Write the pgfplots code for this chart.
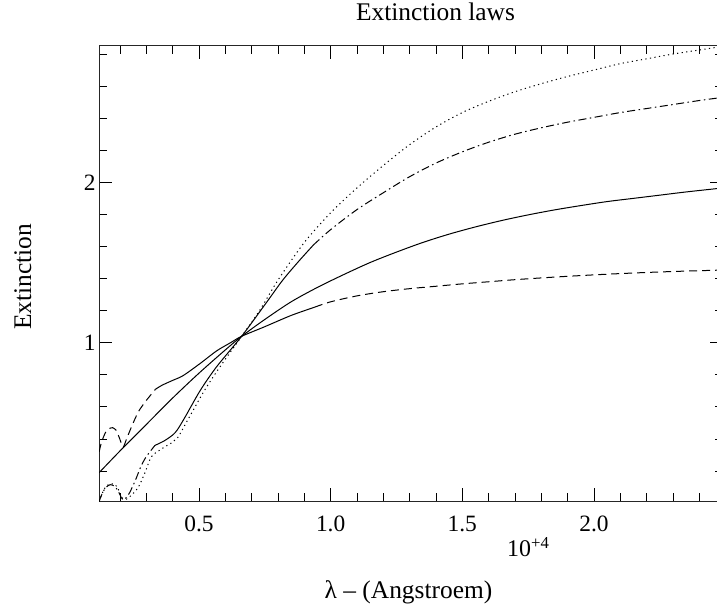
\documentclass[border=0pt]{standalone}
\usepackage{pgfplots}
\pgfplotsset{compat=1.18}
\usepackage{fontspec}
\setmainfont{Liberation Serif}
\begin{document}
\begin{tikzpicture}
\useasboundingbox (0,0) rectangle (717bp,610bp);
\begin{axis}[
  at={(99bp,108.5bp)}, anchor=south west,
  width=624bp, height=455.5bp, scale only axis,
  xmin=0.1204, xmax=2.49, ymin=0.01, ymax=2.85,
  xtick={0.5,1.0,1.5,2.0}, xticklabels={0.5,1.0,1.5,2.0},
  minor xtick={0.2,0.3,0.4,0.6,0.7,0.8,0.9,1.1,1.2,1.3,1.4,1.6,1.7,1.8,1.9,2.1,2.2,2.3,2.4},
  ytick={1,2}, yticklabels={1,2},
  minor ytick={0.2,0.4,0.6,0.8,1.2,1.4,1.6,1.8,2.2,2.4,2.6,2.8},
  tick align=inside,
  major tick length=13bp, minor tick length=8bp,
  tick style={black, line width=0.8bp},
  axis line style={black!85, line width=1bp},
  every tick label/.append style={font=\fontsize{23.5}{28}\selectfont},
  xticklabel style={anchor=base, yshift=-30bp},
]
% solid curve
\addplot[black, line width=1bp, smooth, tension=0.5] coordinates {
(0.121,0.19) (0.2,0.325) (0.3,0.49) (0.4,0.655) (0.5,0.81) (0.6,0.955) (0.662,1.04)
(0.75,1.145) (0.85,1.255) (0.95,1.345) (1.05,1.425) (1.15,1.50) (1.25,1.565) (1.35,1.625)
(1.45,1.677) (1.55,1.722) (1.65,1.762) (1.75,1.797) (1.85,1.828) (1.95,1.855) (2.05,1.88)
(2.15,1.90) (2.25,1.92) (2.35,1.94) (2.49,1.965)
};
% upper curve: dashed / solid / dashed
\addplot[black, line width=1bp, smooth, tension=0.4, dash pattern=on 8bp off 5bp] coordinates {
(0.121,0.32) (0.13,0.38) (0.145,0.44) (0.16,0.465) (0.172,0.47) (0.185,0.455) (0.197,0.41)
(0.212,0.35) (0.225,0.40) (0.245,0.48) (0.27,0.57) (0.30,0.64) (0.335,0.71)
};
\addplot[black, line width=1bp, smooth, tension=0.5] coordinates {
(0.335,0.71) (0.36,0.735) (0.40,0.765) (0.44,0.795) (0.504,0.87) (0.568,0.95) (0.62,1.0)
(0.662,1.04) (0.75,1.10) (0.85,1.17) (0.94,1.222)
};
\addplot[black, line width=1bp, smooth, tension=0.5, dash pattern=on 8bp off 5bp] coordinates {
(0.94,1.222) (1.0,1.255) (1.1,1.292) (1.2,1.318) (1.3,1.337) (1.4,1.352) (1.5,1.367)
(1.6,1.38) (1.7,1.393) (1.8,1.404) (1.9,1.414) (2.0,1.423) (2.1,1.431) (2.2,1.438)
(2.3,1.444) (2.4,1.449) (2.49,1.453)
};
% lower curve: dash-dot / solid / dash-dot
\addplot[black, line width=1bp, smooth, tension=0.4, dash pattern=on 8bp off 3.5bp on 1.5bp off 3.5bp] coordinates {
(0.121,0.01) (0.13,0.05) (0.145,0.095) (0.163,0.115) (0.18,0.105) (0.195,0.07) (0.205,0.035)
(0.215,0.02) (0.235,0.06) (0.258,0.14) (0.28,0.23) (0.30,0.29) (0.333,0.36)
};
\addplot[black, line width=1bp, smooth, tension=0.5] coordinates {
(0.333,0.36) (0.37,0.39) (0.41,0.44) (0.445,0.53) (0.504,0.70) (0.567,0.85) (0.662,1.04)
(0.756,1.25) (0.818,1.39) (0.88,1.51) (0.935,1.61)
};
\addplot[black, line width=1bp, smooth, tension=0.5, dash pattern=on 8bp off 3.5bp on 1.5bp off 3.5bp] coordinates {
(0.935,1.61) (1.0,1.705) (1.1,1.83) (1.2,1.935) (1.3,2.035) (1.4,2.12) (1.5,2.19)
(1.6,2.25) (1.7,2.30) (1.8,2.34) (1.9,2.375) (2.0,2.405) (2.1,2.435) (2.2,2.46)
(2.3,2.485) (2.4,2.51) (2.49,2.53)
};
% dotted curve
\addplot[black, line width=1bp, smooth, tension=0.5, dash pattern=on 1.2bp off 3.4bp] coordinates {
(0.121,0.01) (0.13,0.05) (0.145,0.10) (0.163,0.12) (0.175,0.12) (0.19,0.10) (0.2,0.06)
(0.21,0.03) (0.225,0.025) (0.25,0.06) (0.27,0.10) (0.295,0.19) (0.32,0.29) (0.36,0.34)
(0.40,0.38) (0.42,0.41) (0.458,0.52) (0.52,0.70) (0.58,0.85) (0.662,1.04) (0.73,1.20)
(0.80,1.39) (0.9,1.625) (1.0,1.81) (1.1,1.965) (1.2,2.105) (1.3,2.235) (1.4,2.345)
(1.5,2.435) (1.6,2.505) (1.7,2.565) (1.8,2.615) (1.9,2.66) (2.0,2.70) (2.1,2.74)
(2.2,2.77) (2.3,2.80) (2.4,2.825) (2.49,2.848)
};
\end{axis}
\node[anchor=base, font=\fontsize{25.5}{30}\selectfont] at (435.5bp,589bp) {Extinction laws};
\node[anchor=base, font=\fontsize{25.5}{30}\selectfont] at (408.5bp,12bp) {λ \textendash{} (Angstroem)};
\node[anchor=base, rotate=90, font=\fontsize{25.5}{30}\selectfont] at (31bp,333bp) {Extinction};
\node[anchor=base west, inner sep=0pt, font=\fontsize{24}{28}\selectfont] at (507bp,53bp) {10\textsuperscript{+4}};
\end{tikzpicture}
\end{document}
